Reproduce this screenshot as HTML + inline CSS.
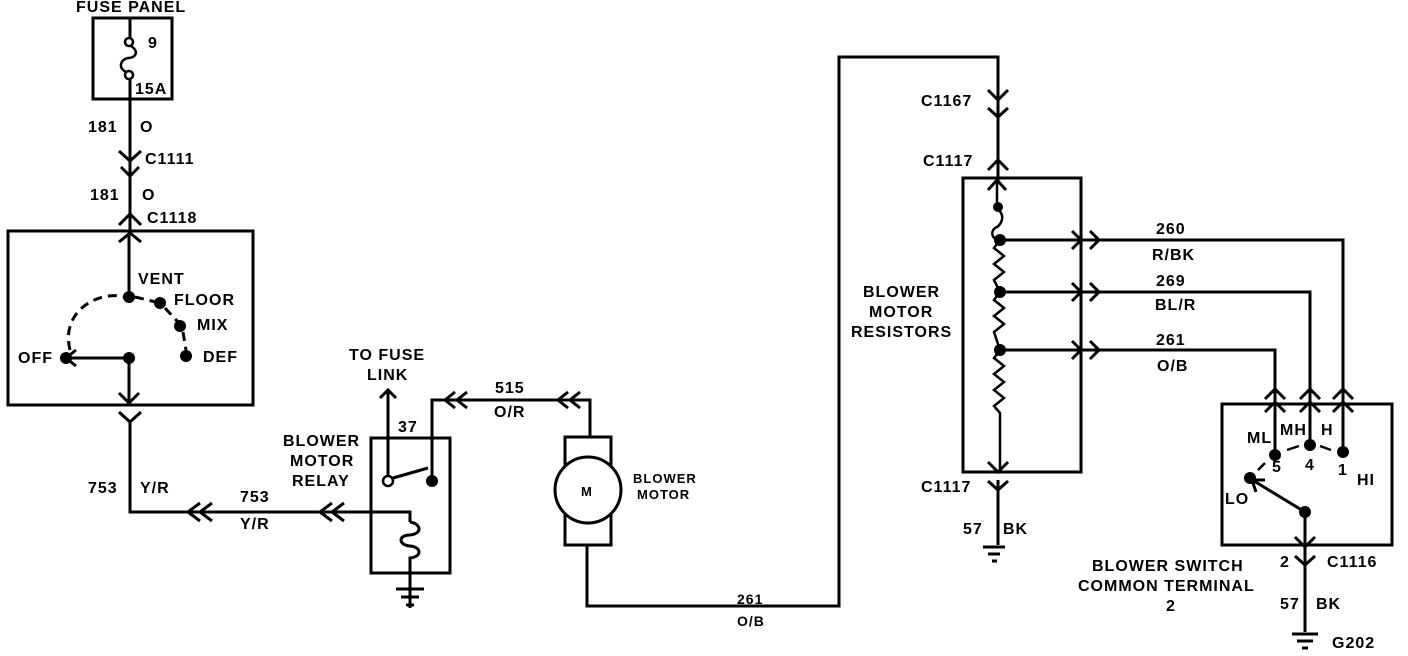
<!DOCTYPE html>
<html><head><meta charset="utf-8"><style>
html,body{margin:0;padding:0;background:#fff;width:1408px;height:656px;overflow:hidden}
svg text{font-family:"Liberation Sans",Arial,sans-serif;font-weight:bold;font-size:16px;letter-spacing:1px;fill:#000}
</style></head><body>
<svg width="1408" height="656" viewBox="0 0 1408 656" xmlns="http://www.w3.org/2000/svg">
<g fill="none" stroke="#000" stroke-width="3">
<rect x="93" y="18" width="79" height="81"/>
<path d="M130 18 V38 M130 79 V230"/>
<circle cx="129" cy="42" r="4" stroke-width="2.5"/>
<circle cx="129" cy="75" r="4" stroke-width="2.5"/>
<path d="M131 46 C140 52 135 58 128 58 C120 60 118 68 126 72" stroke-width="2.5"/>
<path d="M119 151 L130 161 L141 151 M121 167 L130 176 L139 167"/>
<path d="M119 225 L130 214 L141 225"/>
<rect x="8" y="231" width="245" height="174"/>
<path d="M119 242 L130 233 L141 242"/>
<path d="M129 233 V297"/>
<path d="M129 358 H66 M76 350 L66 358 L76 366"/>
<path d="M129 358 V405 M119 393 L129 403 L139 393 M119 412 L130 422 L141 412"/>
<path d="M70 350 C60 310 100 290 125 297 M135 297 L160 303 M165 308 L178 322 M183 332 L186 350" stroke-dasharray="9,6"/>
<path d="M130 420 V512 H410 V522"/>
<path d="M200 503 L188 512 L200 521 M212 503 L200 512 L212 521"/>
<path d="M332 503 L320 512 L332 521 M344 503 L332 512 L344 521"/>
<rect x="371" y="438" width="79" height="135"/>
<path d="M410 522 C422 524 422 534 410 535 C398 535 398 545 410 546 C422 547 422 557 410 558 V608"/>
<path d="M396 589 H424 M401 597 H419 M406 605 H414"/>
<circle cx="388" cy="481" r="5" stroke-width="2.5"/>
<path d="M393 478 L428 468"/>
<path d="M388 476 V390 M380 398 L388 390 L396 398"/>
<path d="M432 481 V400 H590 V437"/>
<path d="M455 392 L445 400 L455 408 M467 392 L457 400 L467 408"/>
<path d="M568 392 L558 400 L568 408 M580 392 L570 400 L580 408"/>
<rect x="565" y="437" width="46" height="108"/>
<circle cx="588" cy="490" r="33" fill="#fff"/>
<path d="M587 545 V606 H839 V57 H998 V112"/>
<path d="M988 90 L998 100 L1008 90 M988 108 L998 117 L1008 108"/>
<path d="M998 112 V180 M988 170 L998 160 L1008 170"/>
<rect x="963" y="178" width="118" height="294"/>
<path d="M988 190 L997 180 L1006 190"/>
<path d="M997 180 V207 M999 210 C1006 218 1000 226 995 228 C990 232 992 240 1000 240" stroke-width="2.5"/>
<path d="M1000 240 L994 248 L1004 256 L994 264 L1004 272 L994 280 L1000 292 L994 300 L1004 308 L994 316 L1004 324 L994 332 L1000 350 L994 358 L1004 366 L994 374 L1004 382 L994 390 L1004 398 L994 406 L1000 413 V472" stroke-width="2.5"/>
<path d="M988 462 L998 472 L1008 462 M988 481 L998 490 L1008 481 M998 480 V545"/>
<path d="M983 547 H1005 M988 554 H1000 M992 561 H997"/>
<path d="M1000 240 H1343 V405 M1000 292 H1310 V405 M1000 350 H1275 V405"/>
<path d="M1072 231 L1081 240 L1072 249 M1090 231 L1099 240 L1090 249"/>
<path d="M1072 283 L1081 292 L1072 301 M1090 283 L1099 292 L1090 301"/>
<path d="M1072 341 L1081 350 L1072 359 M1090 341 L1099 350 L1090 359"/>
<rect x="1222" y="404" width="170" height="141"/>
<path d="M1265 399 L1275 389 L1285 399 M1265 412 L1275 402 L1285 412 M1275 402 V455"/>
<path d="M1300 399 L1310 389 L1320 399 M1300 412 L1310 402 L1320 412 M1310 402 V445"/>
<path d="M1333 399 L1343 389 L1353 399 M1333 412 L1343 402 L1353 412 M1343 402 V452"/>
<path d="M1287 450 L1299 446 M1320 446 L1331 450 M1258 470 L1265 463" stroke-width="2.5"/>
<path d="M1305 512 L1254 481 M1256 492 L1252 480 L1265 480"/>
<path d="M1305 512 V565 M1295 537 L1305 547 L1315 537 M1295 556 L1305 565 L1315 556 M1305 565 V632"/>
<path d="M1292 634 H1318 M1297 641 H1313 M1302 648 H1308"/>
</g>
<g fill="#000">
<circle cx="129" cy="297" r="6"/><circle cx="160" cy="303" r="6"/><circle cx="180" cy="326" r="6"/><circle cx="186" cy="356" r="6"/>
<circle cx="66" cy="358" r="6"/><circle cx="129" cy="358" r="6"/>
<circle cx="432" cy="481" r="6"/>
<circle cx="998" cy="207" r="5"/><circle cx="1000" cy="240" r="6"/><circle cx="1000" cy="292" r="6"/><circle cx="1000" cy="350" r="6"/>
<circle cx="1275" cy="455" r="6"/><circle cx="1310" cy="445" r="6"/><circle cx="1343" cy="452" r="6"/>
<circle cx="1250" cy="478" r="6"/><circle cx="1305" cy="512" r="6"/>
</g>
<text x="76" y="12">FUSE PANEL</text>
<text x="148" y="48">9</text><text x="135" y="94">15A</text>
<text x="88" y="132">181</text><text x="140" y="132">O</text>
<text x="145" y="164">C1111</text>
<text x="90" y="200">181</text><text x="142" y="200">O</text>
<text x="147" y="223">C1118</text>
<text x="138" y="284">VENT</text><text x="174" y="305">FLOOR</text><text x="197" y="330">MIX</text>
<text x="203" y="362">DEF</text><text x="18" y="363">OFF</text>
<text x="88" y="493">753</text><text x="140" y="493">Y/R</text>
<text x="240" y="502">753</text><text x="240" y="529">Y/R</text>
<text x="283" y="446">BLOWER</text><text x="290" y="466">MOTOR</text><text x="292" y="486">RELAY</text>
<text x="349" y="360">TO FUSE</text><text x="367" y="380">LINK</text>
<text x="398" y="432">37</text>
<text x="495" y="393">515</text><text x="494" y="417">O/R</text>
<text x="581" y="496" style="font-size:13px">M</text>
<text x="633" y="483" style="font-size:13px">BLOWER</text><text x="637" y="499" style="font-size:13px">MOTOR</text>
<text x="737" y="604" style="font-size:14px">261</text><text x="737" y="626" style="font-size:14px">O/B</text>
<text x="921" y="106">C1167</text><text x="923" y="166">C1117</text>
<text x="863" y="297">BLOWER</text><text x="869" y="317">MOTOR</text><text x="851" y="337">RESISTORS</text>
<text x="921" y="492">C1117</text>
<text x="963" y="534">57</text><text x="1003" y="534">BK</text>
<text x="1156" y="234">260</text><text x="1152" y="260">R/BK</text>
<text x="1156" y="286">269</text><text x="1155" y="310">BL/R</text>
<text x="1156" y="345">261</text><text x="1157" y="371">O/B</text>
<text x="1247" y="443">ML</text><text x="1280" y="435">MH</text><text x="1321" y="435">H</text>
<text x="1272" y="472">5</text><text x="1305" y="470">4</text><text x="1338" y="475">1</text>
<text x="1357" y="485">HI</text><text x="1225" y="504">LO</text>
<text x="1280" y="567">2</text><text x="1327" y="567">C1116</text>
<text x="1092" y="571">BLOWER SWITCH</text><text x="1078" y="591">COMMON TERMINAL</text><text x="1166" y="611">2</text>
<text x="1280" y="609">57</text><text x="1316" y="609">BK</text>
<text x="1332" y="648">G202</text>
</svg>
</body></html>
